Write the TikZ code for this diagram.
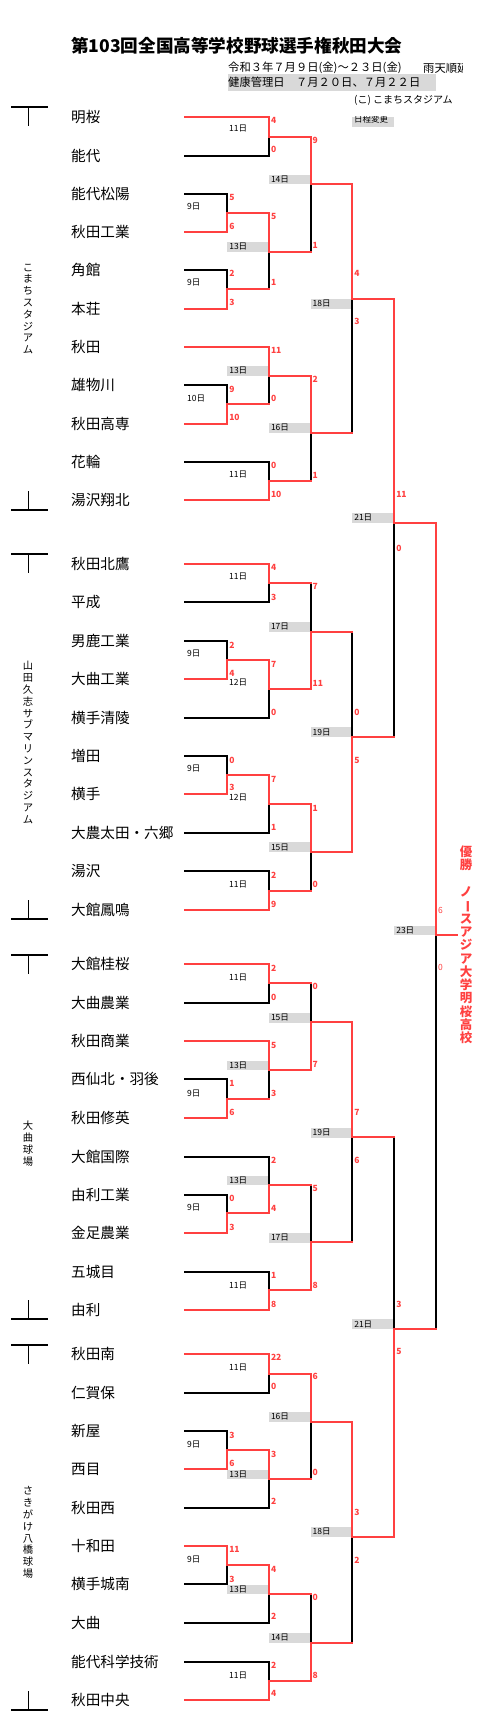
\documentclass[tikz,border=0pt]{standalone}
\usepackage{fontspec}
\setmainfont{Noto Sans CJK JP}
\usetikzlibrary{positioning}

\definecolor{winred}{RGB}{255,64,64}
\definecolor{cellgray}{RGB}{217,217,217}

\tikzset{
  bline/.style={line width=2.2pt,line cap=rect},
  tick/.style={line width=1.3pt},
  school/.style={anchor=west,inner sep=0pt,font=\fontsize{14.6}{15}\selectfont},
  score/.style={anchor=west,inner sep=0pt,text=winred,font=\fontsize{8.5}{9}\selectfont\bfseries},
  day/.style={anchor=west,inner sep=0pt,font=\fontsize{8.5}{9}\selectfont},
  hdr/.style={anchor=west,inner sep=0pt,font=\fontsize{11.3}{12}\selectfont},
  venue/.style={align=center,inner sep=0pt,font=\fontsize{10.3}{11.8}\selectfont},
  champ/.style={align=center,inner sep=0pt,text=winred,font=\fontsize{12.5}{13.3}\selectfont\bfseries}
}

% x / y_top / y_out / y_bottom / x_next / y_winner
\def\bouts{%
 227.3/193.7/213.3/232.3/269/232.3, 227.3/270.3/289.3/308.7/269/308.7,
 227.3/385/404.3/424/269/424, 269/117.3/136.7/155.7/310.7/117.3,
 269/213.3/251.7/289.3/310.7/213.3, 269/346.7/375.7/404.3/310.7/346.7,
 269/462/480.7/500.3/310.7/500.3, 310.7/136.7/184.3/251.7/352.3/136.7,
 310.7/375.7/433.3/480.7/352.3/375.7, 352.3/184.3/299/433.3/394.3/184.3,
 394.3/299/522.7/737.3/436/299,
 227.3/640.7/660/679.3/269/679.3, 227.3/756/775/794.3/269/794.3,
 269/564/583.3/602.3/310.7/564, 269/660/689/717.7/310.7/660,
 269/775/804/832.7/310.7/775, 269/871/890.7/909.7/310.7/909.7,
 310.7/583.3/631.7/689/352.3/689, 310.7/804/852.3/890.7/352.3/804,
 352.3/631.7/737.3/852.3/394.3/852.3,
 227.3/1079.3/1099/1117.7/269/1117.7, 227.3/1195/1213.3/1233.3/269/1233.3,
 269/964.3/983.3/1002.7/310.7/964.3, 269/1041/1070/1099/310.7/1041,
 269/1156.7/1185/1213.3/310.7/1213.3, 269/1271.7/1290/1310/310.7/1310,
 310.7/983.3/1021.7/1070/352.3/1070, 310.7/1185/1242.3/1290/352.3/1290,
 352.3/1021.7/1137.3/1242.3/394.3/1021.7,
 227.3/1431/1450/1469.3/269/1469.3, 227.3/1546/1565/1584.3/269/1546,
 269/1354.3/1374/1393.3/310.7/1354.3, 269/1450/1479/1507.7/310.7/1450,
 269/1565/1594/1622.7/310.7/1565, 269/1661.7/1680.7/1700/310.7/1700,
 310.7/1374/1421.7/1479/352.3/1374, 310.7/1594/1642.7/1680.7/352.3/1680.7,
 352.3/1421.7/1536.7/1642.7/394.3/1421.7,
 394.3/1137.3/1329/1536.7/436/1536.7,
 436/522.7/935/1329/457/522.7}

\begin{document}
\begin{tikzpicture}[x=1pt,y=-1pt]
\useasboundingbox (0,0) rectangle (500,1714);

% header
\node[anchor=west,inner sep=0pt,font=\fontsize{17.6}{18}\selectfont\bfseries] (ttl) at (71,46) {第103回全国高等学校野球選手権秋田大会};
\node[hdr] (period) at (228,68) {令和３年７月９日(金)～２３日(金)};
\begin{scope}
 \clip (420,55) rectangle (462,80);
 \node[hdr] (rain) at (423,68) {雨天順延};
\end{scope}
\fill[cellgray] (228,74) rectangle (436,91);
\node[hdr] (rest) at (228,82.5) {健康管理日　７月２０日、７月２２日};
\node[hdr,font=\fontsize{10}{11}\selectfont] (kc) at (354,100) {(こ) こまちスタジアム};
\fill[cellgray] (352,116.5) rectangle (394,127);
\begin{scope}
 \clip (352,116.5) rectangle (394,127);
 \node[day] (chg) at (354,119.5) {日程変更};
\end{scope}

% venue marks
\foreach \yt/\yb in {107/510, 554/919, 955/1319, 1345/1710}{
  \draw[tick] (11,\yt) -- (48,\yt) (28.5,\yt) -- (28.5,\yt+19);
  \draw[tick] (11,\yb) -- (48,\yb) (28.5,\yb-19) -- (28.5,\yb);
}
\node[venue] (v1) at (28,309) {こ\\ま\\ち\\ス\\タ\\ジ\\ア\\ム};
\node[venue] (v2) at (28,742.5) {山\\田\\久\\志\\サ\\ブ\\マ\\リ\\ン\\ス\\タ\\ジ\\ア\\ム};
\node[venue] (v3) at (28,1143.5) {大\\曲\\球\\場};
\node[venue] (v4) at (28,1532.5) {さ\\き\\が\\け\\八\\橋\\球\\場};

% gray date cells
\foreach \xa/\ya/\yb/\xb/\t [count=\i] in {
 227.3/242.3/251.7/269/13日, 227.3/366/375.7/269/13日, 269/175/184.3/310.7/14日,
 269/423.3/432.7/310.7/16日, 310.7/299/309/352.3/18日, 352.3/512.7/522.7/394.3/21日,
 269/621.7/631.7/310.7/17日, 269/842.3/852.3/310.7/15日, 310.7/727.3/737.3/352.3/19日,
 394.3/926/935/436/23日, 269/1012.7/1022.7/310.7/15日, 227.3/1060.7/1070/269/13日,
 227.3/1176/1185/269/13日, 269/1232.7/1242.7/310.7/17日, 310.7/1127.7/1137.7/352.3/19日,
 352.3/1319/1329/394.3/21日, 269/1411.7/1421.7/310.7/16日, 227.3/1470/1479.3/269/13日,
 227.3/1585/1594.3/269/13日, 269/1632.7/1642.7/310.7/14日, 310.7/1526.7/1536.7/352.3/18日}{
  \fill[cellgray] (\xa,\ya) rectangle (\xb,\yb);
  \node[day] (g\i) at (\xa+1.8,{(\ya+\yb)/2}) {\t};
}
% plain date labels
\foreach \x/\y/\t [count=\i] in {
 229/129/11日, 187/207/9日, 187/283/9日, 187/398.3/10日, 229/475/11日,
 229/576.7/11日, 187/654/9日, 229/682.7/12日, 187/769/9日, 229/797.7/12日, 229/884.3/11日,
 229/977.7/11日, 187/1093.3/9日, 187/1207.7/9日, 229/1285/11日,
 229/1367.3/11日, 187/1444/9日, 187/1559.3/9日, 229/1675/11日}{
  \node[day] (d\i) at (\x,\y) {\t};
}

% losing halves
\foreach \xv/\yt/\yo/\yb/\xn/\yw in \bouts{
  \draw[bline,black] (\xv,\yt) -- (\xv,\yb);
}
% schools and first lines
\foreach \y/\sch/\xe/\c [count=\i] in {
 117.3/明桜/269/winred, 155.7/能代/269/black, 193.7/能代松陽/227.3/black,
 232.3/秋田工業/227.3/winred, 270.3/角館/227.3/black, 308.7/本荘/227.3/winred,
 346.7/秋田/269/winred, 385/雄物川/227.3/black, 424/秋田高専/227.3/winred,
 462/花輪/269/black, 500.3/湯沢翔北/269/winred,
 564/秋田北鷹/269/winred, 602.3/平成/269/black, 640.7/男鹿工業/227.3/black,
 679.3/大曲工業/227.3/winred, 717.7/横手清陵/269/black, 756/増田/227.3/black,
 794.3/横手/227.3/winred, 832.7/大農太田・六郷/269/black, 871/湯沢/269/black,
 909.7/大館鳳鳴/269/winred,
 964.3/大館桂桜/269/winred, 1002.7/大曲農業/269/black, 1041/秋田商業/269/winred,
 1079.3/西仙北・羽後/227.3/black, 1117.7/秋田修英/227.3/winred, 1156.7/大館国際/269/black,
 1195/由利工業/227.3/black, 1233.3/金足農業/227.3/winred, 1271.7/五城目/269/black,
 1310/由利/269/winred,
 1354.3/秋田南/269/winred, 1393.3/仁賀保/269/black, 1431/新屋/227.3/black,
 1469.3/西目/227.3/winred, 1507.7/秋田西/269/black, 1546/十和田/227.3/winred,
 1584.3/横手城南/227.3/black, 1622.7/大曲/269/black, 1661.7/能代科学技術/269/black,
 1700/秋田中央/269/winred}{
  \node[school] (s\i) at (71,\y) {\sch};
  \draw[bline,\c] (185,\y) -- (\xe,\y);
}
% winning halves
\foreach \xv/\yt/\yo/\yb/\xn/\yw in \bouts{
  \draw[bline,winred] (\xv,\yw) -- (\xv,\yo) -- (\xn,\yo);
}

% scores
\foreach \x/\y/\s in {
 227.3/197.3/5, 227.3/226/6, 227.3/273/2, 227.3/302/3, 227.3/389/9, 227.3/417.7/10,
 269/120/4, 269/149/0, 269/216/5, 269/282.7/1, 269/350/11, 269/398.3/0, 269/465/0, 269/494/10,
 310.7/140/9, 310.7/245/1, 310.7/379.3/2, 310.7/475/1,
 352.3/273/4, 352.3/321.7/3, 394.3/494/11, 394.3/548.3/0,
 227.3/645/2, 227.3/673.3/4, 227.3/760/0, 227.3/787.7/3,
 269/567.7/4, 269/597.3/3, 269/664/7, 269/712.3/0, 269/779/7, 269/827.3/1, 269/875/2, 269/904/9,
 310.7/586.7/7, 310.7/683.3/11, 310.7/808.3/1, 310.7/884.3/0,
 352.3/712.3/0, 352.3/760/5,
 227.3/1083.3/1, 227.3/1112.3/6, 227.3/1198.3/0, 227.3/1227.3/3,
 269/968.3/2, 269/997.3/0, 269/1045/5, 269/1093.3/3, 269/1160/2, 269/1208.3/4, 269/1275/1, 269/1304/8,
 310.7/986.7/0, 310.7/1064/7, 310.7/1188.3/5, 310.7/1285/8,
 352.3/1112.3/7, 352.3/1160/6, 394.3/1304/3, 394.3/1351/5,
 227.3/1435/3, 227.3/1463.3/6, 227.3/1549.3/11, 227.3/1579/3,
 269/1357.7/22, 269/1386/0, 269/1454/3, 269/1501.7/2, 269/1569/4, 269/1616.7/2, 269/1665/2, 269/1693.3/4,
 310.7/1376.7/6, 310.7/1472.7/0, 310.7/1597.7/0, 310.7/1675/8,
 352.3/1512.3/3, 352.3/1560/2}{
  \node[score] at (\x+1.8,\y) {\s};
}
\node[score,font=\fontsize{8.5}{9}\selectfont] (f1) at (437.8,910) {6};
\node[score,font=\fontsize{8.5}{9}\selectfont] (f2) at (437.8,967.7) {0};

% champion
\node[champ] (win) at (466,945) {優\\勝\\　\\ノ\\\rotatebox[origin=c]{-90}{ー}\\ス\\ア\\ジ\\ア\\大\\学\\明\\桜\\高\\校};
\end{tikzpicture}
\end{document}
